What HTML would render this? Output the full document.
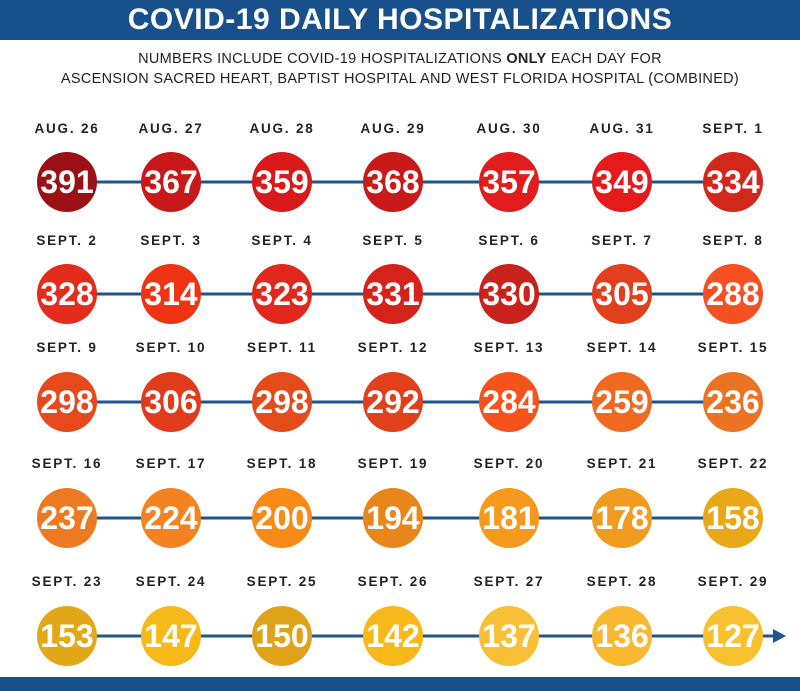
<!DOCTYPE html>
<html><head><meta charset="utf-8"><style>
body{margin:0;width:800px;height:691px;background:#fff;position:relative;overflow:hidden;font-family:"Liberation Sans",sans-serif}
.hdr{position:absolute;left:0;top:0;width:800px;height:40px;background:#17508a;color:#fff;font-weight:bold;font-size:30px;text-align:center;line-height:40px;letter-spacing:0.5px}
.ftr{position:absolute;left:0;top:677px;width:800px;height:14px;background:#17508a}
.sub{position:absolute;left:0;width:800px;text-align:center;font-size:14.5px;color:#222;letter-spacing:0.3px}
</style></head><body>
<div class="hdr">COVID-19 DAILY HOSPITALIZATIONS</div>
<div class="sub" style="top:51px">NUMBERS INCLUDE COVID-19 HOSPITALIZATIONS <b>ONLY</b> EACH DAY FOR</div>
<div class="sub" style="top:71px">ASCENSION SACRED HEART, BAPTIST HOSPITAL AND WEST FLORIDA HOSPITAL (COMBINED)</div>
<div class="ftr"></div>
<svg width="800" height="691" style="position:absolute;left:0;top:0" font-family="Liberation Sans, sans-serif">
<g id="g"></g>
</svg>
<script>
var xs=[67,171,282,393,509,622,733];
var rows=[
{ly:133,cy:182,d:["AUG. 26","AUG. 27","AUG. 28","AUG. 29","AUG. 30","AUG. 31","SEPT. 1"],v:[391,367,359,368,357,349,334],c:["#9a1015","#c8181a","#d91a1a","#c91a1a","#e01c1c","#e41b1b","#d2281c"]},
{ly:245,cy:294,d:["SEPT. 2","SEPT. 3","SEPT. 4","SEPT. 5","SEPT. 6","SEPT. 7","SEPT. 8"],v:[328,314,323,331,330,305,288],c:["#e32c1c","#ee3412","#e0291c","#d4231b","#c8221c","#e2401c","#f55022"]},
{ly:352,cy:402,d:["SEPT. 9","SEPT. 10","SEPT. 11","SEPT. 12","SEPT. 13","SEPT. 14","SEPT. 15"],v:[298,306,298,292,284,259,236],c:["#e64a1c","#e03c1c","#e44a1a","#e0401c","#f5521c","#ef6a20","#eb7322"]},
{ly:468,cy:518,d:["SEPT. 16","SEPT. 17","SEPT. 18","SEPT. 19","SEPT. 20","SEPT. 21","SEPT. 22"],v:[237,224,200,194,181,178,158],c:["#ec7a22","#f58220","#f88a18","#e8861c","#f59a1c","#ef9c20","#e8a818"]},
{ly:586,cy:636,d:["SEPT. 23","SEPT. 24","SEPT. 25","SEPT. 26","SEPT. 27","SEPT. 28","SEPT. 29"],v:[153,147,150,142,137,136,127],c:["#e2a818","#f7b81a","#e0a218","#f9b81a","#f9bf35","#f9b830","#f9c030"]}];
var s="";
rows.forEach(function(r,i){
 var end=i==4?775:xs[6];
 s+='<line x1="'+xs[0]+'" y1="'+r.cy+'" x2="'+end+'" y2="'+r.cy+'" stroke="#1f5591" stroke-width="3"/>';
 if(i==4)s+='<polygon points="773,629 786,636 773,643" fill="#1f5591"/>';
 for(var j=0;j<7;j++){
  s+='<text x="'+xs[j]+'" y="'+r.ly+'" text-anchor="middle" font-size="13.5" font-weight="bold" fill="#222" letter-spacing="1.8">'+r.d[j]+'</text>';
  s+='<circle cx="'+xs[j]+'" cy="'+r.cy+'" r="30" fill="'+r.c[j]+'"/>';
  s+='<text x="'+xs[j]+'" y="'+(r.cy+11)+'" text-anchor="middle" font-size="32" font-weight="bold" fill="#fff">'+r.v[j]+'</text>';
 }
});
document.getElementById("g").innerHTML=s;
</script>
</body></html>
